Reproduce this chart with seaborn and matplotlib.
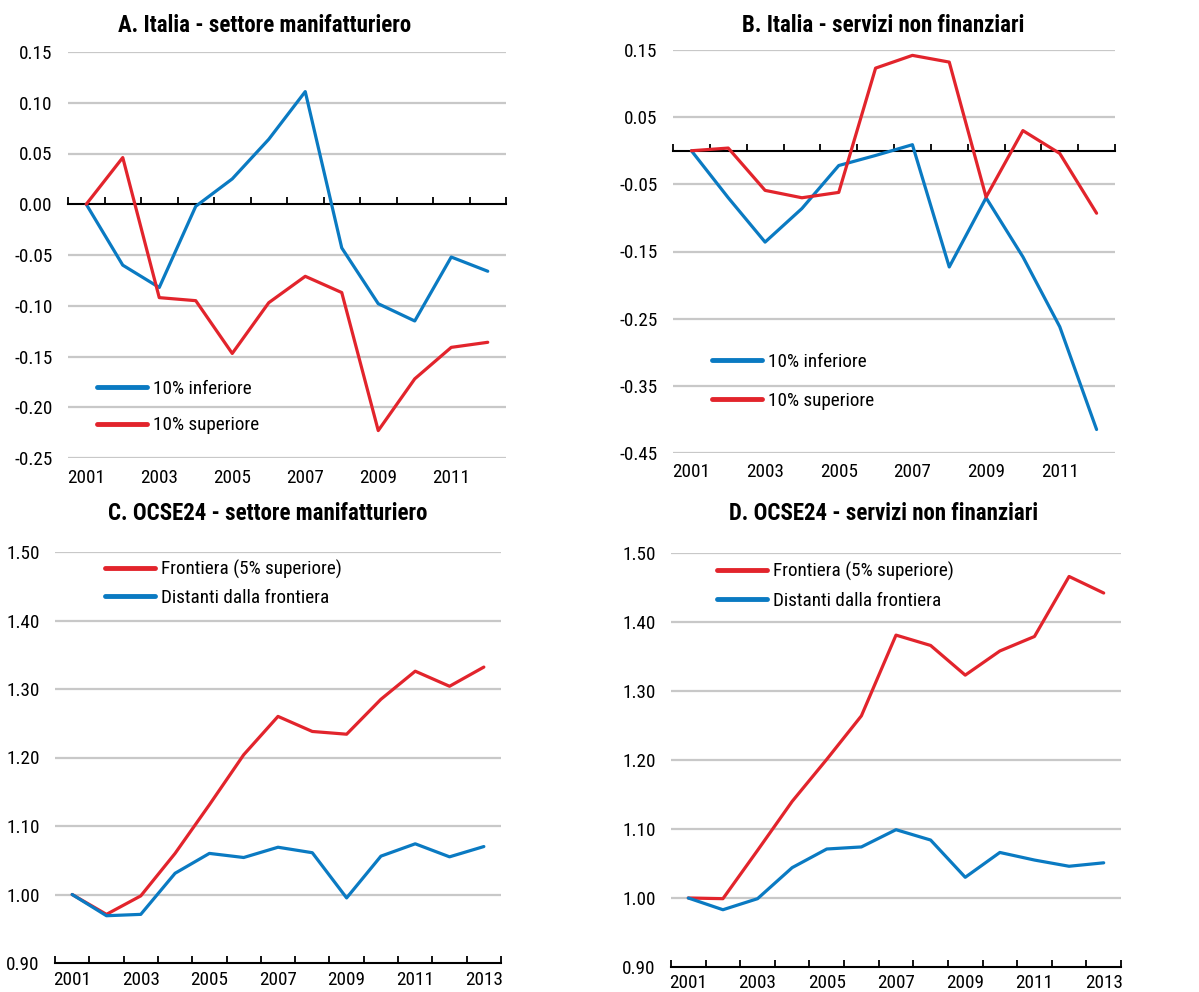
import numpy as np
import pandas as pd
import matplotlib
matplotlib.use("Agg")
import matplotlib.pyplot as plt
from matplotlib import font_manager
from matplotlib.ticker import FixedLocator, FuncFormatter
from matplotlib.lines import Line2D
import seaborn as sns

# ---------------- data ----------------
years_it = list(range(2001, 2013))
years_oecd = list(range(2001, 2014))

a_inferiore = [0.0, -0.060, -0.082, -0.002, 0.025, 0.064, 0.111, -0.043, -0.098, -0.115, -0.052, -0.066]
a_superiore = [0.0, 0.046, -0.092, -0.095, -0.147, -0.097, -0.071, -0.087, -0.223, -0.172, -0.141, -0.136]

b_inferiore = [0.0, -0.070, -0.136, -0.086, -0.022, -0.007, 0.009, -0.173, -0.070, -0.158, -0.262, -0.415]
b_superiore = [0.0, 0.004, -0.059, -0.070, -0.062, 0.123, 0.142, 0.132, -0.069, 0.030, -0.004, -0.093]

c_frontiera = [1.0, 0.971, 0.998, 1.060, 1.131, 1.204, 1.260, 1.238, 1.234, 1.285, 1.326, 1.304, 1.332]
c_distanti = [1.0, 0.969, 0.971, 1.031, 1.060, 1.054, 1.069, 1.061, 0.995, 1.056, 1.074, 1.055, 1.070]

d_frontiera = [1.0, 0.999, 1.069, 1.140, 1.201, 1.264, 1.381, 1.366, 1.323, 1.358, 1.379, 1.466, 1.442]
d_distanti = [1.0, 0.983, 0.999, 1.044, 1.071, 1.074, 1.099, 1.084, 1.030, 1.066, 1.055, 1.046, 1.051]

titles = ["A. Italia - settore manifatturiero", "B. Italia - servizi non finanziari",
          "C. OCSE24 - settore manifatturiero", "D. OCSE24 - servizi non finanziari"]
lbl_inf = "10% inferiore"
lbl_sup = "10% superiore"
lbl_front = "Frontiera (5% superiore)"
lbl_dist = "Distanti dalla frontiera"

BLUE = "#0a7ac2"
RED = "#e2242c"
GRID = "#c8c8c8"

sns.set_theme(style="white")
names = {f.name for f in font_manager.fontManager.ttflist}
fam = "Liberation Sans"
narrow = False
for cand in ["Liberation Sans Narrow", "Roboto Condensed", "Open Sans Condensed", "DejaVu Sans Condensed"]:
    if cand in names:
        fam = cand
        narrow = True
        break
plt.rcParams["font.family"] = [fam, "DejaVu Sans"]
plt.rcParams["text.color"] = "black"

TICK_FS = 13.8 if narrow else 12.5
LEG_FS = 13.8 if narrow else 12.5
TITLE_FS = 16.5 if narrow else 15

W, H = 1199, 992
fig = plt.figure(figsize=(W / 100, H / 100), dpi=100)


def add_ax(l, t, r, b):
    return fig.add_axes([l / W, 1 - b / H, (r - l) / W, (b - t) / H])


def panel(ax, years, s1, s2, lab1, lab2, c1, c2, ylim, yticks, zero_axis,
          xlabels_years, title, title_xy, leg_xy, leg_spacing, xpad):
    df = pd.DataFrame({"year": years * 2, "value": s1 + s2,
                       "serie": [lab1] * len(years) + [lab2] * len(years)})
    sns.lineplot(data=df, x="year", y="value", hue="serie",
                 palette={lab1: c1, lab2: c2}, hue_order=[lab1, lab2],
                 linewidth=2.3, ax=ax, legend=False)
    ax.set_xlim(years[0] - 0.5, years[-1] + 0.5)
    ax.set_ylim(*ylim)
    ax.set_xlabel("")
    ax.set_ylabel("")
    ax.yaxis.set_major_locator(FixedLocator(yticks))
    ax.yaxis.set_major_formatter(FuncFormatter(lambda v, p: f"{v:.2f}"))
    ax.tick_params(axis="y", length=0, pad=11, labelsize=TICK_FS, colors="black")
    for v in yticks:
        if not (zero_axis is None and v == ylim[0]) and not (zero_axis is not None and abs(v) < 1e-9):
            ax.axhline(v, color=GRID, lw=1.6, zorder=0)
    for sp in ["left", "right", "top"]:
        ax.spines[sp].set_visible(False)
    ax.xaxis.set_major_locator(FixedLocator(xlabels_years))
    ax.xaxis.set_major_formatter(FuncFormatter(lambda v, p: f"{int(round(v))}"))
    ax.xaxis.set_minor_locator(FixedLocator([y - 0.5 for y in years] + [years[-1] + 0.5]))
    ax.tick_params(axis="x", which="major", length=0, pad=xpad, labelsize=TICK_FS, colors="black")
    if zero_axis is None:
        ax.spines["bottom"].set_visible(True)
        ax.spines["bottom"].set_color("black")
        ax.spines["bottom"].set_linewidth(1.5)
        ax.tick_params(axis="x", which="minor", direction="in", length=5, width=1.3,
                       color="black", bottom=True)
    else:
        ax.spines["bottom"].set_visible(False)
        ax.tick_params(axis="x", which="minor", length=0)
        frac = (0 - ylim[0]) / (ylim[1] - ylim[0])
        sec = ax.secondary_xaxis(frac)
        sec.xaxis.set_major_locator(FixedLocator([y - 0.5 for y in years] + [years[-1] + 0.5]))
        sec.tick_params(axis="x", direction="out", length=5, width=1.3, color="black",
                        labeltop=False, labelbottom=False)
        for sp in sec.spines.values():
            sp.set_color("black")
            sp.set_linewidth(1.5)
    fig.text(title_xy[0] / W, 1 - title_xy[1] / H, title, ha="center", va="center",
             fontsize=TITLE_FS, fontweight="bold", color="black")
    handles = [Line2D([], [], color=c1, lw=3.5), Line2D([], [], color=c2, lw=3.5)]
    ax.legend(handles, [lab1, lab2], loc="upper left",
              bbox_to_anchor=(leg_xy[0] / W, 1 - leg_xy[1] / H),
              bbox_transform=fig.transFigure, frameon=False, fontsize=LEG_FS,
              handlelength=2.6, handletextpad=0.3, labelspacing=leg_spacing,
              borderpad=0, borderaxespad=0)
    return ax


axA = add_ax(68, 52, 506, 458)
panel(axA, years_it, a_inferiore, a_superiore, lbl_inf, lbl_sup, BLUE, RED,
      (-0.25, 0.15), [-0.25, -0.20, -0.15, -0.10, -0.05, 0.0, 0.05, 0.10, 0.15], True,
      list(range(2001, 2013, 2)), titles[0], (265, 26), (97, 380), 0.95, 8)

axB = add_ax(673, 50, 1115, 453)
panel(axB, years_it, b_inferiore, b_superiore, lbl_inf, lbl_sup, BLUE, RED,
      (-0.45, 0.15), [-0.45, -0.35, -0.25, -0.15, -0.05, 0.05, 0.15], True,
      list(range(2001, 2013, 2)), titles[1], (883, 26), (712, 353), 1.1, 7)

axC = add_ax(55, 552, 501, 963)
panel(axC, years_oecd, c_frontiera, c_distanti, lbl_front, lbl_dist, RED, BLUE,
      (0.90, 1.50), [0.90, 1.00, 1.10, 1.20, 1.30, 1.40, 1.50], None,
      list(range(2001, 2014, 2)), titles[2], (268, 513), (105, 560), 0.5, 6)

axD = add_ax(671, 553, 1121, 967)
panel(axD, years_oecd, d_frontiera, d_distanti, lbl_front, lbl_dist, RED, BLUE,
      (0.90, 1.50), [0.90, 1.00, 1.10, 1.20, 1.30, 1.40, 1.50], None,
      list(range(2001, 2014, 2)), titles[3], (884, 513), (717, 562), 0.55, 5)

fig.savefig("out.png", dpi=100)
